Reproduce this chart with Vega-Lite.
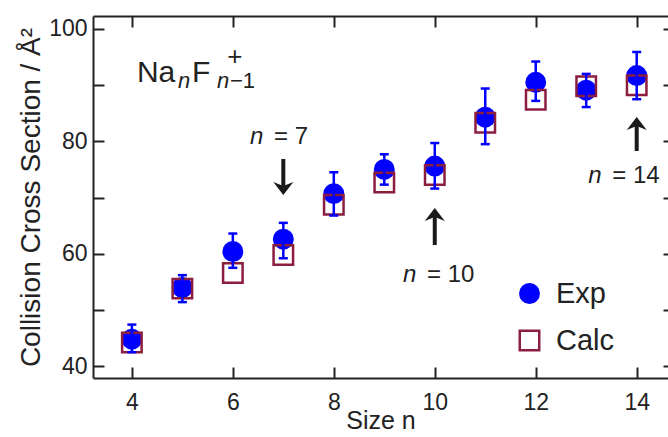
{
  "$schema": "https://vega.github.io/schema/vega-lite/v6.json",
  "width": 575,
  "height": 362,
  "autosize": "none",
  "padding": {"left": 93, "top": 16, "right": 0, "bottom": 59},
  "background": "white",
  "config": {
    "view": {"stroke": null},
    "font": "Liberation Sans",
    "axis": {
      "grid": false,
      "domainColor": "#222222",
      "domainWidth": 2,
      "tickColor": "#222222",
      "tickWidth": 2,
      "labelColor": "#222222",
      "titleColor": "#222222",
      "labelFont": "Liberation Sans",
      "titleFont": "Liberation Sans",
      "titleFontWeight": "normal"
    }
  },
  "datasets": {
    "ccs": [
      {"n": 4, "series": "Exp", "ccs": 44.8, "lo": 42.5, "hi": 47.4},
      {"n": 5, "series": "Exp", "ccs": 54.0, "lo": 51.4, "hi": 56.2},
      {"n": 6, "series": "Exp", "ccs": 60.4, "lo": 57.5, "hi": 63.6},
      {"n": 7, "series": "Exp", "ccs": 62.6, "lo": 59.2, "hi": 65.5},
      {"n": 8, "series": "Exp", "ccs": 70.7, "lo": 66.8, "hi": 74.5},
      {"n": 9, "series": "Exp", "ccs": 75.0, "lo": 72.3, "hi": 77.7},
      {"n": 10, "series": "Exp", "ccs": 75.6, "lo": 71.6, "hi": 79.7},
      {"n": 11, "series": "Exp", "ccs": 84.3, "lo": 79.5, "hi": 89.4},
      {"n": 12, "series": "Exp", "ccs": 90.5, "lo": 87.2, "hi": 94.2},
      {"n": 13, "series": "Exp", "ccs": 89.1, "lo": 86.1, "hi": 92.0},
      {"n": 14, "series": "Exp", "ccs": 91.7, "lo": 87.5, "hi": 95.9},
      {"n": 4, "series": "Calc", "ccs": 44.2},
      {"n": 5, "series": "Calc", "ccs": 53.8},
      {"n": 6, "series": "Calc", "ccs": 56.6},
      {"n": 7, "series": "Calc", "ccs": 59.8},
      {"n": 8, "series": "Calc", "ccs": 68.7},
      {"n": 9, "series": "Calc", "ccs": 72.7},
      {"n": 10, "series": "Calc", "ccs": 74.0},
      {"n": 11, "series": "Calc", "ccs": 83.3},
      {"n": 12, "series": "Calc", "ccs": 87.4},
      {"n": 13, "series": "Calc", "ccs": 89.8},
      {"n": 14, "series": "Calc", "ccs": 90.0}
    ],
    "arrows": [
      {"n": 7, "dir": "down", "from": 76.86, "to": 71.52},
      {"n": 10, "dir": "up", "from": 61.56, "to": 67.08},
      {"n": 14, "dir": "up", "from": 78.28, "to": 83.26}
    ],
    "notes": [
      {"x": 6.34, "y": 79.53, "rest": "= 7"},
      {"x": 9.37, "y": 54.98, "rest": "= 10"},
      {"x": 13.04, "y": 72.59, "rest": "= 14"}
    ],
    "formula": [{"x": 4.1, "y": 90.56}]
  },
  "resolve": {"axis": {"x": "independent", "y": "independent"}},
  "layer": [
    {
      "data": {"name": "ccs"},
      "mark": {"type": "point", "strokeWidth": 2.5, "opacity": 1, "fillOpacity": 1},
      "encoding": {
        "x": {
          "field": "n", "type": "quantitative",
          "scale": {"domain": [3.23, 14.62], "nice": false, "zero": false},
          "axis": {
            "orient": "bottom", "values": [4, 6, 8, 10, 12, 14], "tickSize": -11,
            "labelPadding": 24, "labelFontSize": 23, "title": "Size  n",
            "titleFontSize": 25, "titlePadding": -6
          }
        },
        "y": {
          "field": "ccs", "type": "quantitative",
          "scale": {"domain": [37.9, 102.3], "nice": false, "zero": false},
          "axis": {
            "orient": "left", "values": [40, 50, 60, 70, 80, 90, 100], "tickSize": -11,
            "labelExpr": "datum.value % 20 == 0 ? datum.label : ''",
            "labelPadding": 17, "labelFontSize": 23,
            "title": "Collision Cross Section / Å²", "titleFontSize": 28, "titlePadding": 3
          }
        },
        "shape": {
          "field": "series", "type": "nominal",
          "scale": {"domain": ["Exp", "Calc"], "range": ["circle", "square"]},
          "legend": {
            "title": null, "orient": "none", "legendX": 422, "legendY": 263,
            "labelFontSize": 29, "labelColor": "#222222", "labelFont": "Liberation Sans",
            "symbolStrokeWidth": 2.5, "labelOffset": 12, "rowPadding": 16
          }
        },
        "fill": {
          "field": "series", "type": "nominal",
          "scale": {"domain": ["Exp", "Calc"], "range": ["#0000ff", "transparent"]}
        },
        "stroke": {
          "field": "series", "type": "nominal",
          "scale": {"domain": ["Exp", "Calc"], "range": ["#0000ff", "#8b1e3f"]}
        },
        "size": {
          "field": "series", "type": "nominal",
          "scale": {"domain": ["Exp", "Calc"], "range": [340, 380]}
        }
      }
    },
    {
      "data": {"name": "ccs"},
      "transform": [{"filter": "datum.series == 'Exp'"}],
      "mark": {"type": "rule", "color": "#0000ff", "strokeWidth": 2.5},
      "encoding": {
        "x": {
          "field": "n", "type": "quantitative",
          "axis": {"orient": "top", "values": [4, 6, 8, 10, 12, 14], "tickSize": -11, "labels": false, "title": null}
        },
        "y": {
          "field": "lo", "type": "quantitative",
          "axis": {"orient": "right", "values": [40, 50, 60, 70, 80, 90, 100], "tickSize": -5, "labels": false, "domain": false, "title": null}
        },
        "y2": {"field": "hi"}
      }
    },
    {
      "data": {"name": "ccs"},
      "transform": [{"filter": "datum.series == 'Exp'"}],
      "mark": {"type": "tick", "orient": "horizontal", "color": "#0000ff", "thickness": 2.5, "size": 9, "opacity": 1},
      "encoding": {
        "x": {"field": "n", "type": "quantitative", "axis": null},
        "y": {"field": "lo", "type": "quantitative", "axis": null}
      }
    },
    {
      "data": {"name": "ccs"},
      "transform": [{"filter": "datum.series == 'Exp'"}],
      "mark": {"type": "tick", "orient": "horizontal", "color": "#0000ff", "thickness": 2.5, "size": 9, "opacity": 1},
      "encoding": {
        "x": {"field": "n", "type": "quantitative", "axis": null},
        "y": {"field": "hi", "type": "quantitative", "axis": null}
      }
    },
    {
      "data": {"name": "arrows"},
      "mark": {"type": "rule", "color": "#1a1a1a", "strokeWidth": 4},
      "encoding": {
        "x": {"field": "n", "type": "quantitative", "axis": null},
        "y": {"field": "from", "type": "quantitative", "axis": null},
        "y2": {"field": "to"}
      }
    },
    {
      "data": {"name": "arrows"},
      "transform": [{"filter": "datum.dir == 'down'"}],
      "mark": {"type": "point", "filled": true, "color": "#1a1a1a", "opacity": 1, "size": 400, "shape": "M0,0.6L-1,-0.7L0,-0.3L1,-0.7Z"},
      "encoding": {
        "x": {"field": "n", "type": "quantitative", "axis": null},
        "y": {"field": "to", "type": "quantitative", "axis": null}
      }
    },
    {
      "data": {"name": "arrows"},
      "transform": [{"filter": "datum.dir == 'up'"}],
      "mark": {"type": "point", "filled": true, "color": "#1a1a1a", "opacity": 1, "size": 400, "shape": "M0,-0.6L-1,0.7L0,0.3L1,0.7Z"},
      "encoding": {
        "x": {"field": "n", "type": "quantitative", "axis": null},
        "y": {"field": "to", "type": "quantitative", "axis": null}
      }
    },
    {
      "data": {"name": "notes"},
      "mark": {"type": "text", "text": "n", "fontStyle": "italic", "fontSize": 24, "align": "left", "baseline": "alphabetic", "color": "#222222"},
      "encoding": {
        "x": {"field": "x", "type": "quantitative", "axis": null},
        "y": {"field": "y", "type": "quantitative", "axis": null}
      }
    },
    {
      "data": {"name": "notes"},
      "mark": {"type": "text", "fontSize": 24, "align": "left", "baseline": "alphabetic", "dx": 24, "color": "#222222"},
      "encoding": {
        "x": {"field": "x", "type": "quantitative", "axis": null},
        "y": {"field": "y", "type": "quantitative", "axis": null},
        "text": {"field": "rest"}
      }
    },
    {
      "data": {"name": "formula"},
      "mark": {"type": "text", "text": "Na", "fontSize": 30, "align": "left", "baseline": "alphabetic", "color": "#222222"},
      "encoding": {
        "x": {"field": "x", "type": "quantitative", "axis": null},
        "y": {"field": "y", "type": "quantitative", "axis": null}
      }
    },
    {
      "data": {"name": "formula"},
      "mark": {"type": "text", "text": "n", "fontStyle": "italic", "fontSize": 22, "align": "left", "baseline": "alphabetic", "dx": 41, "dy": 6, "color": "#222222"},
      "encoding": {
        "x": {"field": "x", "type": "quantitative", "axis": null},
        "y": {"field": "y", "type": "quantitative", "axis": null}
      }
    },
    {
      "data": {"name": "formula"},
      "mark": {"type": "text", "text": "F", "fontSize": 30, "align": "left", "baseline": "alphabetic", "dx": 55, "color": "#222222"},
      "encoding": {
        "x": {"field": "x", "type": "quantitative", "axis": null},
        "y": {"field": "y", "type": "quantitative", "axis": null}
      }
    },
    {
      "data": {"name": "formula"},
      "mark": {"type": "text", "text": "n", "fontStyle": "italic", "fontSize": 22, "align": "left", "baseline": "alphabetic", "dx": 80, "dy": 6, "color": "#222222"},
      "encoding": {
        "x": {"field": "x", "type": "quantitative", "axis": null},
        "y": {"field": "y", "type": "quantitative", "axis": null}
      }
    },
    {
      "data": {"name": "formula"},
      "mark": {"type": "text", "text": "−1", "fontSize": 22, "align": "left", "baseline": "alphabetic", "dx": 93, "dy": 6, "color": "#222222"},
      "encoding": {
        "x": {"field": "x", "type": "quantitative", "axis": null},
        "y": {"field": "y", "type": "quantitative", "axis": null}
      }
    },
    {
      "data": {"name": "formula"},
      "mark": {"type": "text", "text": "+", "fontSize": 26, "align": "center", "baseline": "alphabetic", "dx": 98, "dy": -17, "color": "#222222"},
      "encoding": {
        "x": {"field": "x", "type": "quantitative", "axis": null},
        "y": {"field": "y", "type": "quantitative", "axis": null}
      }
    }
  ]
}
